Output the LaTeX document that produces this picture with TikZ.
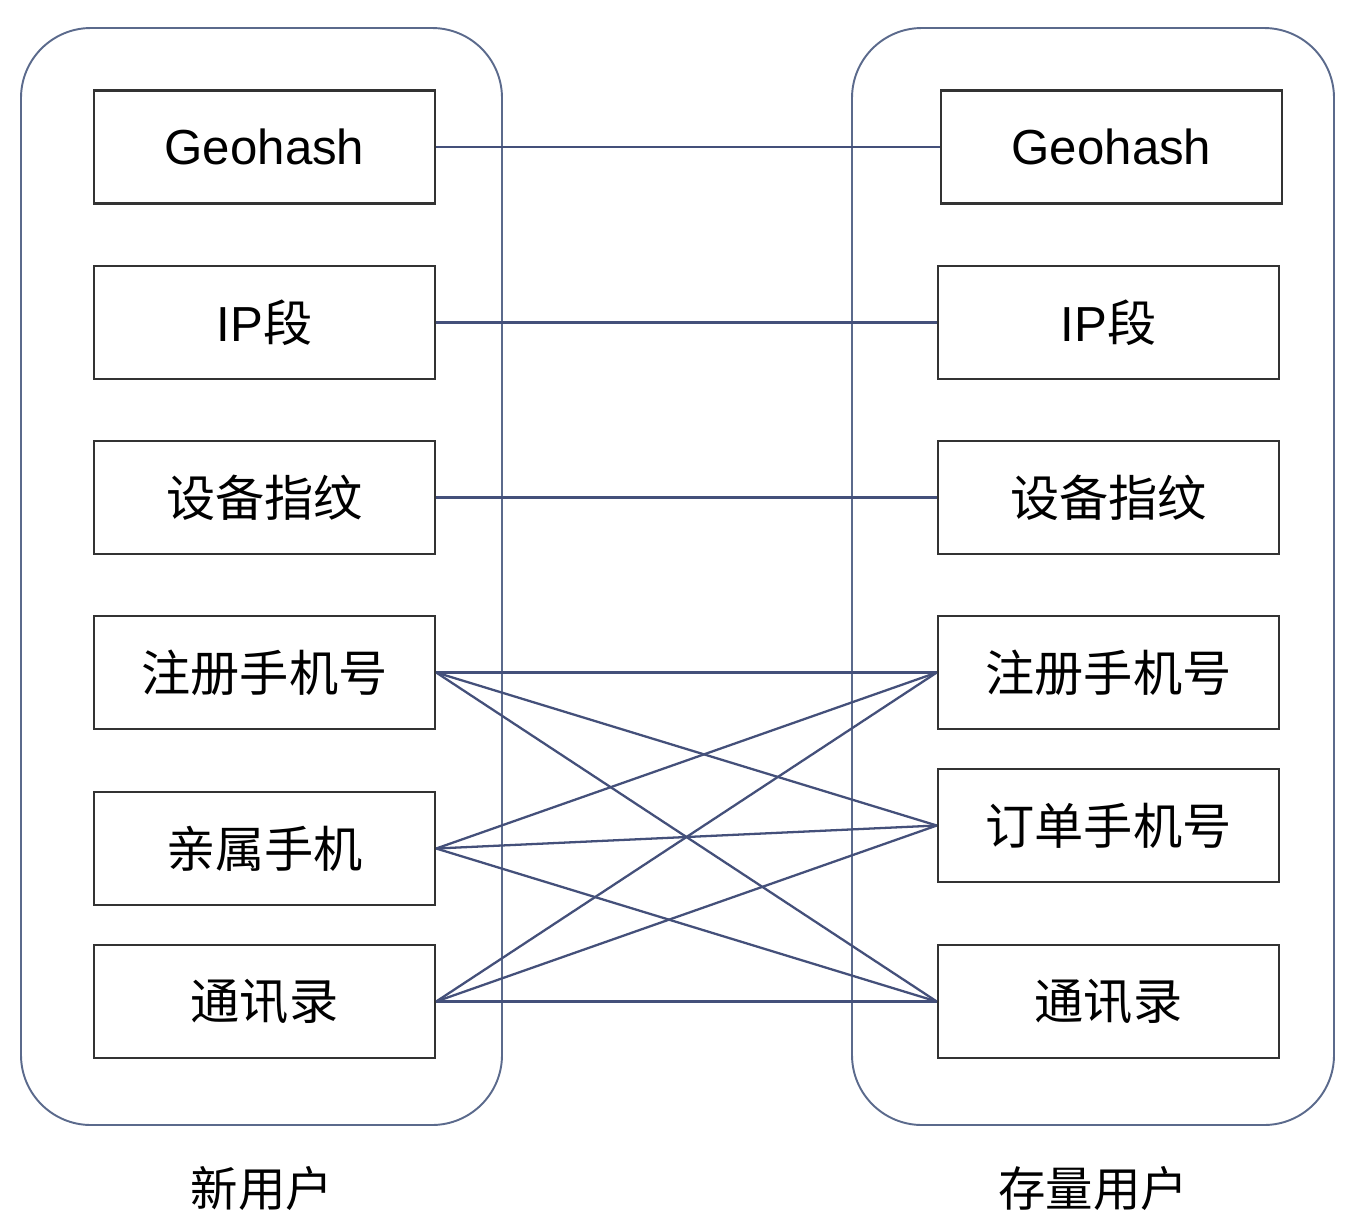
\documentclass[tikz,border=0pt]{standalone}
\usepackage{fontspec}
\setmainfont{Liberation Sans}
\newfontfamily\cjk{Noto Sans CJK SC}
\usetikzlibrary{positioning}
\definecolor{linkblue}{HTML}{44507A}
\definecolor{groupblue}{HTML}{5B6A8C}
\definecolor{boxgrey}{HTML}{333333}

\begin{document}
\begin{tikzpicture}
[x=0.02cm,y=-0.02cm,
field/.style={draw=boxgrey,line width=1.4pt,rectangle,inner sep=0pt,minimum width=6.82cm,minimum height=2.26cm,font=\fontsize{28}{30}\selectfont},
cjkfield/.style={field,font=\cjk\fontsize{28}{30}\selectfont},
group/.style={draw=groupblue,line width=1.1pt,rounded corners=1.4cm},
link/.style={draw=linkblue,line width=1.3pt},
caption/.style={font=\cjk\fontsize{27}{30}\selectfont}]
\useasboundingbox (0,0) rectangle (1352,1228);
\draw[group] (21,28) rectangle (502,1125);
\draw[group] (852,28) rectangle (1334,1125);
% new user
\node[field] (ngeo) at (264.5,147) {Geohash};
\node[field] (nip) at (264.5,322.5) {IP{\cjk 段}};
\node[cjkfield] (ndev) at (264.5,497.5) {设备指纹};
\node[cjkfield] (nreg) at (264.5,672.5) {注册手机号};
\node[cjkfield] (nrel) at (264.5,848.5) {亲属手机};
\node[cjkfield] (nbook) at (264.5,1001.5) {通讯录};
% existing user
\node[field] (ogeo) at (1111.5,147) {Geohash};
\node[field] (oip) at (1108.5,322.5) {IP{\cjk 段}};
\node[cjkfield] (odev) at (1108.5,497.5) {设备指纹};
\node[cjkfield] (oreg) at (1108.5,672.5) {注册手机号};
\node[cjkfield] (oord) at (1108.5,825.5) {订单手机号};
\node[cjkfield] (obook) at (1108.5,1001.5) {通讯录};
\node[caption] (newcap) at (262,1188) {新用户};
\node[caption] (oldcap) at (1093,1188) {存量用户};
% links
\draw[link] (ngeo.east) -- (ogeo.west);
\draw[link] (nip.east) -- (oip.west);
\draw[link] (ndev.east) -- (odev.west);
\foreach \a in {nreg,nrel,nbook}
  \foreach \b in {oreg,oord,obook}
    \draw[link] (\a.east) -- (\b.west);
\end{tikzpicture}
\end{document}
